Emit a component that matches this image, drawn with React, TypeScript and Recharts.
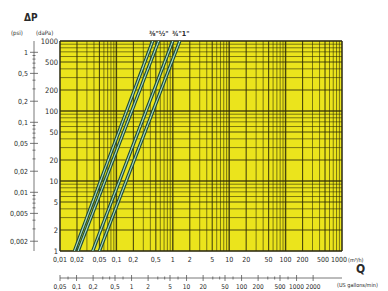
import React from "react"
import { ComposedChart, Line, XAxis, YAxis, ReferenceLine, ReferenceArea } from "recharts"

// flow (m3/h) axis
const Q_TICKS = [0.01, 0.02, 0.05, 0.1, 0.2, 0.5, 1, 2, 5, 10, 20, 50, 100, 200, 500, 1000]
const Q_LABELS = ["0,01", "0,02", "0,05", "0,1", "0,2", "0,5", "1", "2", "5", "10", "20", "50", "100", "200", "500", "1000"]

// flow (US gallons/min) axis
const GPM_TICKS = [0.05, 0.1, 0.2, 0.5, 1, 2, 5, 10, 20, 50, 100, 200, 500, 1000, 2000]
const GPM_LABELS = ["0,05", "0,1", "0,2", "0,5", "1", "2", "5", "10", "20", "50", "100", "200", "500", "1000", "2000"]
const GPM_MINOR = [0.3, 0.4, 3, 4, 30, 40, 300, 400, 0.07, 0.7, 7, 70, 700]
const GPM_DOMAIN = [0.05, 6700]

// pressure drop axes
const DAPA_TICKS = [1, 2, 5, 10, 20, 50, 100, 200, 500, 1000]
const PSI_TICKS = [0.002, 0.005, 0.01, 0.02, 0.05, 0.1, 0.2, 0.5, 1]
const PSI_LABELS = ["0,002", "0,005", "0,01", "0,02", "0,05", "0,1", "0,2", "0,5", "1"]
const PSI_MINOR = [0.003, 0.004, 0.006, 0.007, 0.008, 0.009, 0.03, 0.04, 0.06, 0.07, 0.08, 0.09, 0.3, 0.4, 0.6, 0.7, 0.8, 0.9]

// grid
const GRID_STEPS = [1, 2, 3, 4, 5, 6, 7, 8, 9]
const Q_DECADES = [0.01, 0.1, 1, 10, 100]
const DP_DECADES = [1, 10, 100]

// valve curves: flow at dP = 1 and dP = 1000 daPa
const DP_ENDS = [1, 1000]
const Q_3_8 = [0.018, 0.44]
const Q_1_2 = [0.021, 0.56]
const Q_3_4 = [0.038, 1.0]
const Q_1 = [0.05, 1.33]

const PSI_PER_DAPA = 1 / 689.476
const FONT = "'Liberation Sans Narrow', 'DejaVu Sans Condensed', 'Liberation Sans', sans-serif"
const TXT = "#2a2a2a"
const YELLOW = "#ebe41c"

const curves = [Q_3_8, Q_1_2, Q_3_4, Q_1].map((qs) => DP_ENDS.map((dp, i) => ({ q: qs[i], dp })))
// invisible helper so the gallons axis has something bound to it
const gpmSpan = GPM_DOMAIN.map((g) => ({ g, dp: 1 }))

const xGrid = Q_DECADES.flatMap((d) => GRID_STEPS.map((k) => ({ v: +(d * k).toPrecision(3), k }))).concat([{ v: 1000, k: 1 }])
const yGrid = DP_DECADES.flatMap((d) => GRID_STEPS.map((k) => ({ v: d * k, k }))).concat([{ v: 1000, k: 1 }])

const gridWidth = (k: number) => (k === 1 ? 1.4 : k === 2 || k === 5 ? 1.1 : 0.7)

// the last two labels are squeezed together, as in the original print
const Q_NUDGE: Record<number, number> = { 500: -2, 1000: -3 }

const QTick = ({ x, y, payload }: any) => {
  const i = Q_TICKS.indexOf(payload.value)
  const last = payload.value === 1000
  return (
    <g>
      <text x={x + (Q_NUDGE[payload.value] || 0)} y={y + 11} textAnchor="middle" fontSize={7} fill={TXT} fontFamily={FONT}>
        {Q_LABELS[i]}
      </text>
      {last && (
        <text x={x + 6} y={y + 11} textAnchor="start" fontSize={5.5} fill={TXT} fontFamily={FONT}>
          (m³/h)
        </text>
      )}
    </g>
  )
}

const GpmTick = ({ x, y, payload }: any) => {
  const i = GPM_TICKS.indexOf(payload.value)
  const major = i >= 0
  return (
    <g>
      <line x1={x} x2={x} y1={y - (major ? 3 : 1.5)} y2={y + (major ? 3 : 1.5)} stroke="#555" strokeWidth={0.8} />
      {major && (
        <text x={x} y={y + 11} textAnchor="middle" fontSize={6.5} fill={TXT} fontFamily={FONT}>
          {GPM_LABELS[i]}
        </text>
      )}
    </g>
  )
}

const DapaTick = ({ x, y, payload }: any) => (
  <text x={x - 2} y={y} dy="0.35em" textAnchor="end" fontSize={7.5} fill={TXT} fontFamily={FONT}>
    {payload.value}
  </text>
)

const PsiTick = ({ x, y, payload }: any) => {
  const i = PSI_TICKS.indexOf(payload.value)
  const major = i >= 0
  return (
    <g>
      <line x1={x - (major ? 4 : 1.5)} x2={x + (major ? 4 : 1.5)} y1={y} y2={y} stroke="#555" strokeWidth={0.8} />
      {major && (
        <text x={x - 6} y={y} dy="0.35em" textAnchor="end" fontSize={7} fill={TXT} fontFamily={FONT}>
          {PSI_LABELS[i]}
        </text>
      )}
    </g>
  )
}

const label = (text: string, left: number, top: number, size: number, weight = 400) => (
  <div
    style={{
      position: "absolute",
      left,
      top,
      fontSize: size,
      fontWeight: weight,
      fontFamily: FONT,
      color: TXT,
      lineHeight: 1,
      whiteSpace: "nowrap",
    }}
  >
    {text}
  </div>
)

export default function App() {
  return (
    <div style={{ position: "absolute", left: 0, top: 0, width: 388, height: 291, background: "#fff" }}>
      <ComposedChart width={388} height={291} margin={{ top: 41, right: 46, left: 0, bottom: 0 }}>
        <XAxis
          xAxisId="a_q"
          dataKey="q"
          type="number"
          scale="log"
          domain={[0.01, 1000]}
          allowDataOverflow
          ticks={Q_TICKS}
          interval={0}
          height={27}
          axisLine={false}
          tickLine={false}
          tickSize={0}
          tickMargin={0}
          tick={<QTick />}
        />
        <XAxis
          xAxisId="b_gpm"
          dataKey="g"
          type="number"
          scale="log"
          domain={GPM_DOMAIN}
          allowDataOverflow
          ticks={[...GPM_TICKS, ...GPM_MINOR].sort((a, b) => a - b)}
          interval={0}
          height={13}
          axisLine={{ stroke: "#555", strokeWidth: 0.8 }}
          tickLine={false}
          tickSize={0}
          tickMargin={0}
          tick={<GpmTick />}
        />
        <YAxis
          yAxisId="a_dapa"
          dataKey="dp"
          type="number"
          scale="log"
          domain={[1, 1000]}
          allowDataOverflow
          ticks={DAPA_TICKS}
          interval={0}
          width={26}
          axisLine={false}
          tickLine={false}
          tickSize={0}
          tickMargin={0}
          tick={<DapaTick />}
        />
        <YAxis
          yAxisId="b_psi"
          type="number"
          scale="log"
          domain={[1 * PSI_PER_DAPA, 1000 * PSI_PER_DAPA]}
          allowDataOverflow
          ticks={[...PSI_TICKS, ...PSI_MINOR].sort((a, b) => a - b)}
          interval={0}
          width={34}
          axisLine={{ stroke: "#555", strokeWidth: 0.8 }}
          tickLine={false}
          tickSize={0}
          tickMargin={0}
          tick={<PsiTick />}
        />

        <ReferenceArea xAxisId="a_q" yAxisId="a_dapa" x1={0.01} x2={1000} y1={1} y2={1000} fill={YELLOW} fillOpacity={1} stroke="#555" strokeWidth={1} />
        {xGrid.map((g) => (
          <ReferenceLine key={"x" + g.v} xAxisId="a_q" yAxisId="a_dapa" x={g.v} stroke="#2e2c08" strokeWidth={gridWidth(g.k)} strokeOpacity={0.85} />
        ))}
        {yGrid.map((g) => (
          <ReferenceLine key={"y" + g.v} xAxisId="a_q" yAxisId="a_dapa" y={g.v} stroke="#2e2c08" strokeWidth={gridWidth(g.k)} strokeOpacity={0.85} />
        ))}

        <Line
          xAxisId="b_gpm"
          yAxisId="a_dapa"
          data={gpmSpan}
          dataKey="dp"
          stroke="none"
          dot={false}
          activeDot={false}
          isAnimationActive={false}
        />

        {curves.map((data, i) => (
          <Line
            key={"o" + i}
            xAxisId="a_q"
            yAxisId="a_dapa"
            data={data}
            dataKey="dp"
            type="linear"
            stroke="#1c4a36"
            strokeWidth={3.4}
            dot={false}
            activeDot={false}
            isAnimationActive={false}
          />
        ))}
        {curves.map((data, i) => (
          <Line
            key={"i" + i}
            xAxisId="a_q"
            yAxisId="a_dapa"
            data={data}
            dataKey="dp"
            type="linear"
            stroke="#a8dcc8"
            strokeWidth={1.1}
            dot={false}
            activeDot={false}
            isAnimationActive={false}
          />
        ))}
      </ComposedChart>

      {label("ΔP", 24, 13, 10, 700)}
      {label("(psi)", 11, 30, 6)}
      {label("(daPa)", 36, 30, 6)}
      {label("⅜\"½\"", 149, 31, 7, 700)}
      {label("¾\"1\"", 172, 31, 7, 700)}
      {label("Q", 356, 263, 12, 700)}
      {label("(US gallons/min)", 337, 283, 5.5)}
    </div>
  )
}
